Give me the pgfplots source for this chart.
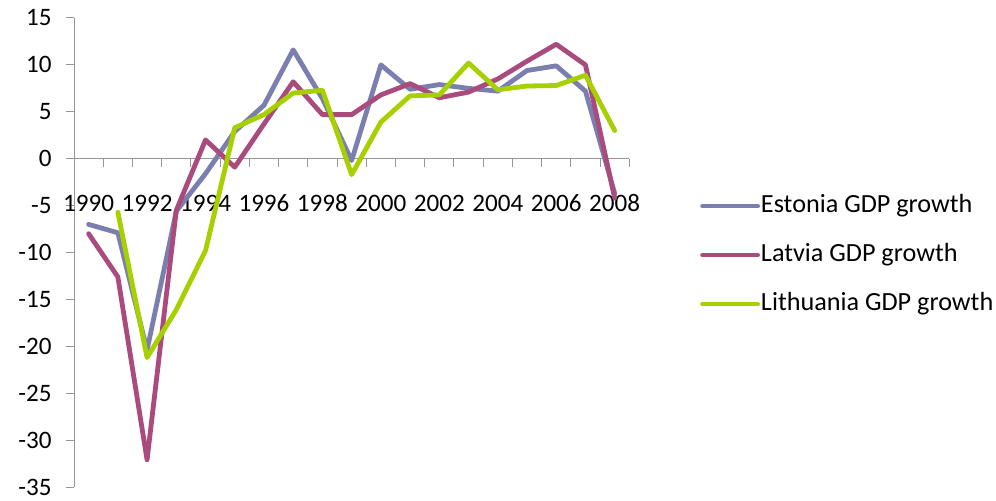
\documentclass[border=0pt]{standalone}
\usepackage{fontspec}
\setmainfont{Carlito}
\usepackage{pgfplots}
\pgfplotsset{compat=1.18}

\definecolor{estonia}{RGB}{122,127,175}
\definecolor{latvia}{RGB}{169,75,124}
\definecolor{lithuania}{RGB}{166,208,0}
\definecolor{axisgray}{RGB}{150,150,150}
\newcommand\tickfont{\fontsize{25.2}{30}\selectfont}
\newcommand\legendfont{\fontsize{26.3}{31}\selectfont}

% Annual real GDP growth, %; x = year - 1990
\pgfplotstableread{
x  y
0  -7.0
1  -7.9
2  -20.4
3  -5.6
4  -1.6
5  2.9
6  5.7
7  11.6
8  6.4
9  -0.2
10 10.0
11 7.4
12 7.9
13 7.5
14 7.2
15 9.4
16 9.9
17 7.2
18 -3.7
}\estonia
\pgfplotstableread{
x  y
0  -8.0
1  -12.6
2  -32.1
3  -5.5
4  2.0
5  -0.9
6  3.7
7  8.2
8  4.7
9  4.7
10 6.8
11 8.0
12 6.5
13 7.1
14 8.5
15 10.4
16 12.2
17 10.0
18 -4.2
}\latvia
\pgfplotstableread{
x  y
1  -5.7
2  -21.2
3  -16.1
4  -9.8
5  3.3
6  4.7
7  7.0
8  7.3
9  -1.7
10 3.9
11 6.7
12 6.8
13 10.2
14 7.35
15 7.75
16 7.8
17 8.9
18 3.0
}\lithuania

\begin{document}
\begin{tikzpicture}
\begin{axis}[
  at={(74bp,14bp)}, anchor=south west,
  scale only axis, width=555.3bp, height=469bp,
  xmin=-0.5, xmax=18.5, ymin=-35, ymax=15,
  axis y line*=left, axis x line*=middle,
  axis line style={axisgray, line width=1bp, -},
  hide obscured x ticks=false, hide obscured y ticks=false,
  /pgf/number format/assume math mode=true,
  tick label style={font=\tickfont, text=black},
  ytick={-35,-30,-25,-20,-15,-10,-5,0,5,10,15},
  yticklabels={-35,-30,-25,-20,-15,-10,-5,0,5,10,15},
  ytick style={axisgray, line width=1bp},
  yticklabel style={xshift=-11bp},
  tick align=outside,
  major tick length=8bp,
  xtick={0,2,4,6,8,10,12,14,16,18},
  xticklabels={1990,1992,1994,1996,1998,2000,2002,2004,2006,2008},
  xtick style={draw=none},
  extra x ticks={-0.5,0.5,1.5,2.5,3.5,4.5,5.5,6.5,7.5,8.5,9.5,10.5,11.5,12.5,13.5,14.5,15.5,16.5,17.5,18.5},
  extra x tick labels={},
  extra x tick style={xtick style={axisgray, line width=1bp, draw=axisgray}},
  xticklabel style={yshift=-24.5bp},
  legend cell align=left,
  legend image code/.code={\draw[#1] (0bp,0bp) -- (55bp,0bp);},
  legend style={at={(rel axis cs:1.1273,0.625)}, anchor=north west,
    draw=none, fill=none, inner sep=0pt, font=\legendfont,
    row sep=25bp,
    nodes={inner sep=0pt, text height=18bp, text depth=6bp},
    /tikz/every odd column/.append style={column sep=1bp}},
  every axis plot/.append style={line width=4.8bp, line join=round, line cap=round, no markers},
]
\addplot[estonia] table[x=x,y=y] {\estonia};
\addlegendentry{Estonia GDP growth}
\addplot[latvia] table[x=x,y=y] {\latvia};
\addlegendentry{Latvia GDP growth}
\addplot[lithuania] table[x=x,y=y] {\lithuania};
\addlegendentry{Lithuania GDP growth}
\end{axis}
\path (0,0) rectangle (996bp,501bp);
\end{tikzpicture}
\end{document}
